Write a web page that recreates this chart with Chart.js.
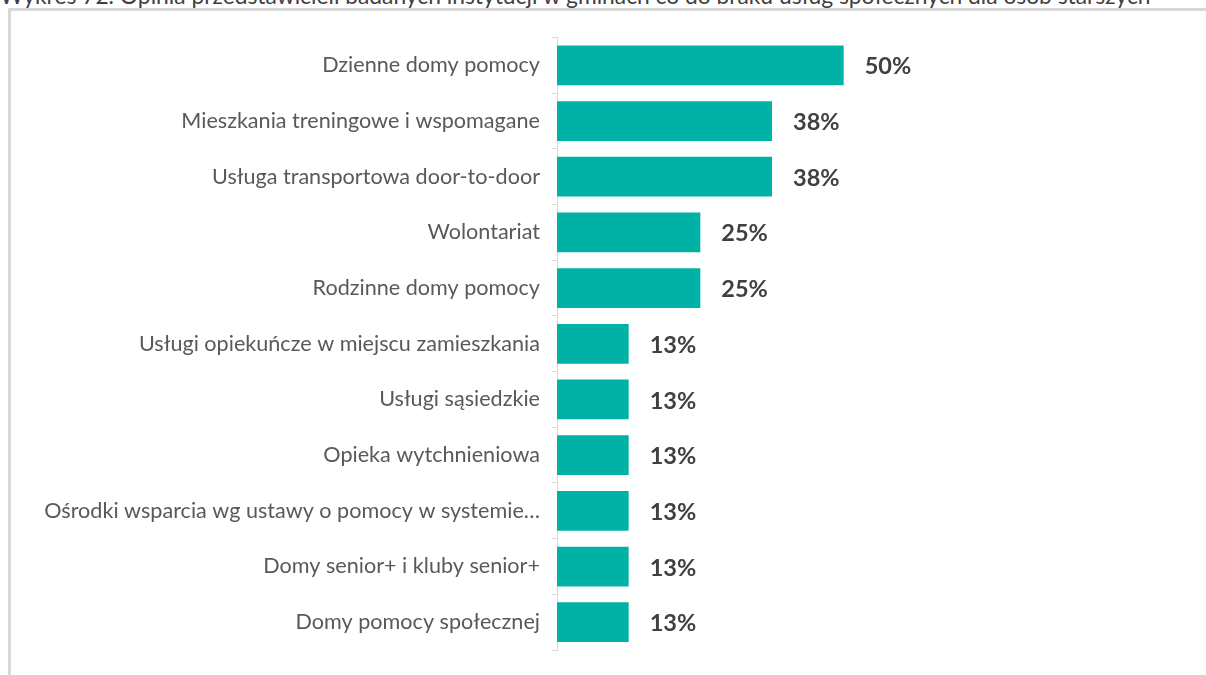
<!DOCTYPE html>
<html>
<head>
<meta charset="utf-8">
<script src="https://cdn.jsdelivr.net/npm/chart.js@4"></script>
<style>
  html, body { margin: 0; padding: 0; background: #fff; width: 1206px; height: 675px; overflow: hidden; position: relative; }
  #title { position: absolute; left: 0; top: -18px; font-family: Lato, sans-serif; font-size: 22.8px; line-height: 27px; color: #404040; white-space: nowrap; }
  #frame { position: absolute; left: 8px; top: 8px; width: 1300px; height: 800px; border-left: 3px solid #d9d9d9; border-top: 3px solid #d9d9d9; box-sizing: border-box; }
  #wrap { position: absolute; left: 12px; top: 12px; width: 1194px; height: 663px; }
</style>
</head>
<body>
<div id="title">Wykres 72. Opinia przedstawicieli badanych instytucji w gminach co do braku usług społecznych dla osób starszych</div>
<div id="frame"></div>
<div id="wrap"><canvas id="c"></canvas></div>
<script>
const categories = [
  "Dzienne domy pomocy",
  "Mieszkania treningowe i wspomagane",
  "Usługa transportowa door-to-door",
  "Wolontariat",
  "Rodzinne domy pomocy",
  "Usługi opiekuńcze w miejscu zamieszkania",
  "Usługi sąsiedzkie",
  "Opieka wytchnieniowa",
  "Ośrodki wsparcia wg ustawy o pomocy w systemie…",
  "Domy senior+ i kluby senior+",
  "Domy pomocy społecznej"
];
const values = [50, 37.5, 37.5, 25, 25, 12.5, 12.5, 12.5, 12.5, 12.5, 12.5];
const xMin = 0;
const xMax = 60;

const valueLabels = {
  id: 'valueLabels',
  afterDatasetsDraw(chart) {
    const ctx = chart.ctx;
    const meta = chart.getDatasetMeta(0);
    ctx.save();
    ctx.font = 'bold 23.5px Lato, sans-serif';
    ctx.fillStyle = '#404040';
    ctx.textAlign = 'left';
    ctx.textBaseline = 'middle';
    meta.data.forEach((el, i) => {
      ctx.fillText(Math.round(values[i]) + '%', el.x + 21, el.y + 1.5);
    });
    ctx.restore();
  }
};

new Chart(document.getElementById('c'), {
  type: 'bar',
  data: {
    labels: categories,
    datasets: [{
      data: values,
      backgroundColor: '#00B2A5',
      borderWidth: 0,
      barPercentage: 0.714,
      categoryPercentage: 1.0
    }]
  },
  options: {
    indexAxis: 'y',
    responsive: true,
    maintainAspectRatio: false,
    animation: false,
    layout: { padding: { top: 25.5, bottom: 21, left: 0, right: 305 } },
    plugins: { legend: { display: false }, tooltip: { enabled: false } },
    scales: {
      x: { display: false, min: xMin, max: xMax },
      y: {
        afterFit(scale) { scale.width = 545; },
        grid: { display: true, drawOnChartArea: false, drawTicks: true, tickLength: 5, color: '#d9d9d9', offset: true },
        border: { display: true, color: '#d9d9d9', width: 1 },
        ticks: { color: '#595959', padding: 12, font: { family: 'Lato, sans-serif', size: 21.6 } }
      }
    }
  },
  plugins: [valueLabels]
});
</script>
</body>
</html>
